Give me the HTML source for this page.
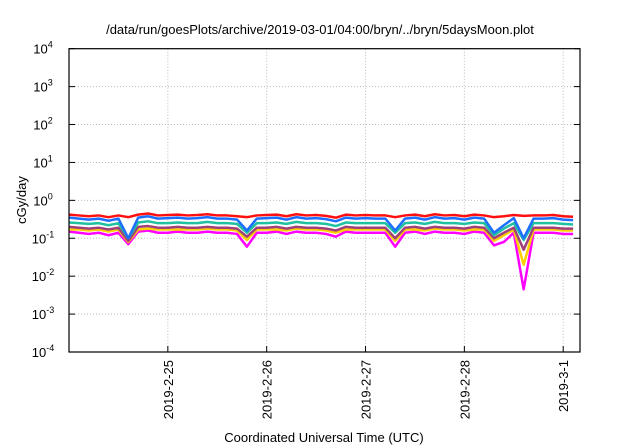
<!DOCTYPE html>
<html><head><meta charset="utf-8"><style>
body{margin:0;background:#fff;}
svg{display:block;font-family:"Liberation Sans",sans-serif;}
</style></head><body>
<svg id="chart" width="640" height="448" viewBox="0 0 640 448">
<text x="320" y="34" font-size="13" text-anchor="middle">/data/run/goesPlots/archive/2019-03-01/04:00/bryn/../bryn/5daysMoon.plot</text>
<text transform="translate(26,200) rotate(-90)" font-size="13" text-anchor="middle">cGy/day</text>
<text x="324" y="442" font-size="13" text-anchor="middle">Coordinated Universal Time (UTC)</text>
<g id="grid"></g><g id="series"></g><g id="axes"></g>
</svg>
<script>
const yTickExps=[-4,-3,-2,-1,0,1,2,3,4];
const xTickDays=[1,2,3,4,5];
const xTickLabels=["2019-2-25","2019-2-26","2019-2-27","2019-2-28","2019-3-1"];
const seriesColors=["#ff00ff","#ffd000","#a0407a","#20c0a0","#ff1010","#1e6fff"];
const seriesNames=["magenta","yellow","purple","teal","red","blue"];
const red=[0.42,0.40,0.38,0.40,0.36,0.40,0.36,0.42,0.45,0.40,0.41,0.42,0.40,0.41,0.43,0.40,0.40,0.38,0.36,0.40,0.41,0.42,0.38,0.43,0.40,0.41,0.39,0.35,0.42,0.40,0.41,0.40,0.40,0.36,0.40,0.42,0.38,0.43,0.40,0.41,0.38,0.42,0.40,0.36,0.38,0.41,0.39,0.40,0.40,0.41,0.38,0.37];
const blue=[0.35,0.33,0.31,0.33,0.29,0.33,0.10,0.35,0.38,0.33,0.34,0.35,0.33,0.34,0.36,0.33,0.33,0.31,0.16,0.33,0.34,0.35,0.31,0.36,0.33,0.34,0.32,0.28,0.35,0.33,0.34,0.33,0.33,0.16,0.33,0.35,0.31,0.36,0.33,0.34,0.31,0.35,0.33,0.14,0.22,0.34,0.10,0.33,0.33,0.34,0.31,0.30];
const teal=[0.26,0.25,0.24,0.25,0.22,0.25,0.10,0.26,0.28,0.25,0.25,0.26,0.25,0.25,0.27,0.25,0.25,0.24,0.14,0.25,0.25,0.26,0.24,0.27,0.25,0.25,0.24,0.21,0.26,0.25,0.25,0.25,0.25,0.14,0.25,0.26,0.24,0.27,0.25,0.25,0.24,0.26,0.25,0.12,0.18,0.25,0.09,0.25,0.25,0.25,0.24,0.23];
const purple=[0.20,0.19,0.18,0.19,0.17,0.19,0.085,0.20,0.21,0.19,0.19,0.20,0.19,0.19,0.20,0.19,0.19,0.18,0.11,0.19,0.19,0.20,0.18,0.20,0.19,0.19,0.18,0.16,0.20,0.19,0.19,0.19,0.19,0.10,0.19,0.20,0.18,0.20,0.19,0.19,0.18,0.20,0.19,0.10,0.14,0.19,0.05,0.19,0.19,0.19,0.18,0.18];
const yellow=[0.17,0.17,0.16,0.17,0.15,0.17,0.08,0.17,0.18,0.17,0.17,0.17,0.17,0.17,0.18,0.17,0.17,0.16,0.09,0.17,0.17,0.17,0.16,0.18,0.17,0.17,0.16,0.14,0.17,0.17,0.17,0.17,0.17,0.085,0.17,0.17,0.16,0.18,0.17,0.17,0.16,0.17,0.17,0.085,0.12,0.17,0.02,0.17,0.17,0.17,0.16,0.16];
const magenta=[0.15,0.14,0.13,0.14,0.12,0.14,0.07,0.15,0.16,0.14,0.14,0.15,0.14,0.14,0.15,0.14,0.14,0.13,0.06,0.14,0.14,0.15,0.13,0.15,0.14,0.14,0.13,0.11,0.15,0.14,0.14,0.14,0.14,0.06,0.14,0.15,0.13,0.15,0.14,0.14,0.13,0.15,0.14,0.065,0.08,0.14,0.0045,0.14,0.14,0.14,0.13,0.13];
const allSeries=[magenta,yellow,purple,teal,red,blue];
const X0=69,X1=580,Y0=48.7,Y1=352,T0=0,T1=5.17;
const sx=t=>X0+(t-T0)/(T1-T0)*(X1-X0);
const sy=v=>Y1-(Math.log10(v)+4)/8*(Y1-Y0);
const NS="http://www.w3.org/2000/svg";
function mk(tag,attrs,parent){const e=document.createElementNS(NS,tag);for(const k in attrs)e.setAttribute(k,attrs[k]);parent.appendChild(e);return e;}
const grid=document.getElementById('grid'),ser=document.getElementById('series'),ax=document.getElementById('axes');
yTickExps.forEach(p=>{const y=sy(Math.pow(10,p));
 if(p>-4&&p<4){const g=mk('line',{x1:X0,x2:X1,y1:y,y2:y,stroke:'#bbb','stroke-dasharray':'1,2'},grid);
 
 }
 const t=mk('line',{x1:X0,x2:X0+6,y1:y,y2:y,stroke:'#000'},ax);
 
 
 const t2=mk('line',{x1:X1,x2:X1-6,y1:y,y2:y,stroke:'#000'},ax);
 
 
 const lab=mk('text',{x:X0-26,y:y+5,'font-size':13,'text-anchor':'middle'},ax);
 
 
 lab.textContent='10';
 const sp=mk('tspan',{dy:-6,'font-size':9},lab);sp.textContent=String(p);
});
xTickDays.forEach((d,i)=>{const x=sx(d);
 const g=mk('line',{x1:x,x2:x,y1:Y0,y2:Y1,stroke:'#bbb','stroke-dasharray':'1,2'},grid);
 
 
 const t=mk('line',{x1:x,x2:x,y1:Y1,y2:Y1-6,stroke:'#000'},ax);
 
 
 const lab=mk('text',{transform:`translate(${x+5},${Y1+8}) rotate(-90)`,'font-size':13,'text-anchor':'end'},ax);
 
 
 lab.textContent=xTickLabels[i];
});
allSeries.forEach((arr,i)=>{
 const pts=arr.map((v,j)=>sx(j*0.1)+','+sy(v)).join(' ');
 const pl=mk('polyline',{points:pts,fill:'none',stroke:seriesColors[i],'stroke-width':2.5,'stroke-linejoin':'round'},ser);
 
 
});
const fr=mk('rect',{x:X0,y:Y0,width:X1-X0,height:Y1-Y0,fill:'none',stroke:'#000','stroke-width':1.2},ax);


</script>
</body></html>
